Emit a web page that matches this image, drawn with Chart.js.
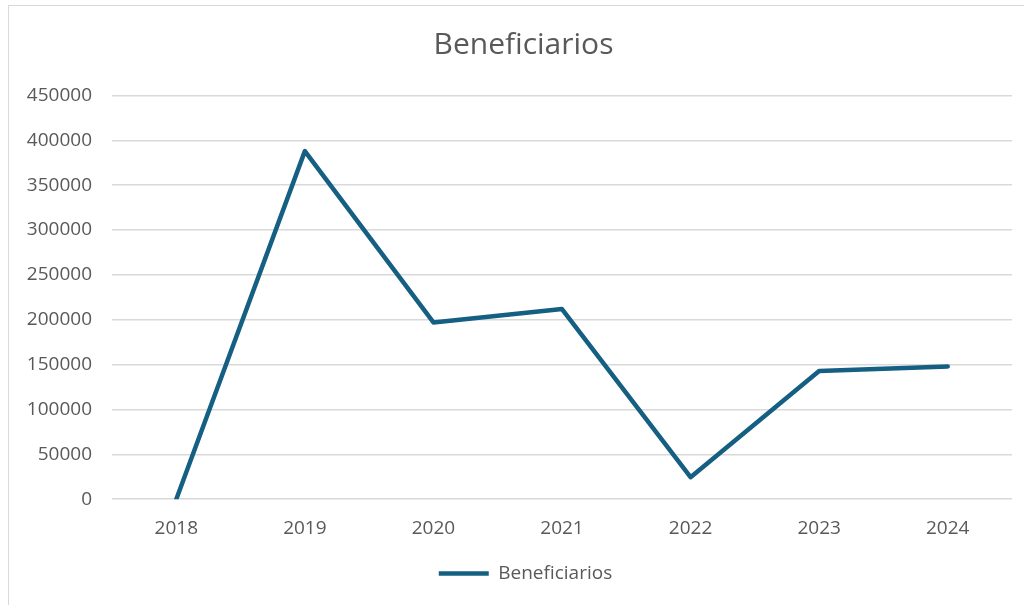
<!DOCTYPE html>
<html>
<head>
<meta charset="utf-8">
<script src="https://cdn.jsdelivr.net/npm/chart.js@4/dist/chart.umd.min.js"></script>
<style>
  html, body { margin: 0; padding: 0; background: #ffffff; overflow: hidden; width: 1024px; height: 605px; }
  #box { position: absolute; left: 8px; top: 5px; width: 1028px; height: 610px; border: 1px solid #d9d9d9; background: #fff; }
  canvas { display: block; }
</style>
</head>
<body>
<div id="box"><canvas id="c" width="1028" height="610"></canvas></div>
<script>
const categories = ['2018', '2019', '2020', '2021', '2022', '2023', '2024'];
const beneficiarios = [0, 388000, 197000, 212000, 24500, 143000, 148000];
const seriesName = 'Beneficiarios';
const chartTitle = 'Beneficiarios';
const yMin = 0, yMax = 450000, yStep = 50000;

const textColor = '#595959';
const lineColor = '#156082';
const fontFamily = "'Open Sans', 'Liberation Sans', sans-serif";

// Center title and legend on the whole chart box rather than the padded layout area
const centerBoxes = {
  id: 'centerBoxes',
  afterLayout(chart) {
    if (chart.titleBlock) { chart.titleBlock.left += 8; chart.titleBlock.right += 8; }
    if (chart.legend) { chart.legend.left += 10; chart.legend.right += 10; }
  }
};

new Chart(document.getElementById('c'), {
  type: 'line',
  data: {
    labels: categories,
    datasets: [{
      label: seriesName,
      data: beneficiarios,
      borderColor: lineColor,
      backgroundColor: lineColor,
      borderWidth: 4.5,
      borderCapStyle: 'round',
      borderJoinStyle: 'round',
      pointRadius: 0,
      pointHoverRadius: 0,
      tension: 0,
      fill: false
    }]
  },
  options: {
    responsive: false,
    animation: false,
    layout: { padding: { left: 10, right: 25, top: 0, bottom: 23 } },
    plugins: {
      title: {
        display: true,
        text: chartTitle,
        color: textColor,
        font: { family: fontFamily, size: 30, weight: 'normal' },
        padding: { top: 21, bottom: 32.5 }
      },
      legend: {
        display: true,
        position: 'bottom',
        labels: {
          color: textColor,
          font: { family: fontFamily, size: 19 },
          usePointStyle: true,
          pointStyle: 'line',
          pointStyleWidth: 50,
          padding: 6
        }
      },
      tooltip: { enabled: false }
    },
    scales: {
      x: {
        offset: true,
        grid: { display: false, drawTicks: false },
        border: { display: false },
        ticks: { color: textColor, font: { family: fontFamily, size: 19 }, padding: 18, maxRotation: 0 }
      },
      y: {
        min: yMin, max: yMax,
        afterFit: (s) => { s.width = 93; },
        grid: { color: '#d9d9d9', lineWidth: 1.5, drawTicks: false },
        border: { display: false },
        ticks: {
          stepSize: yStep, color: textColor, font: { family: fontFamily, size: 19 }, padding: 20,
          callback: (v) => String(v)
        }
      }
    }
  },
  plugins: [centerBoxes]
});
</script>
</body>
</html>
